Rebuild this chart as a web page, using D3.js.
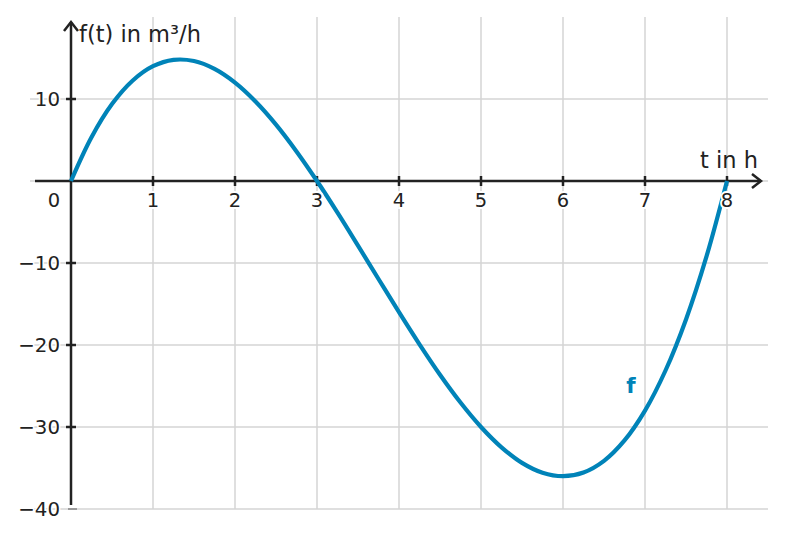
<!DOCTYPE html>
<html><head><meta charset="utf-8">
<script src="https://cdn.jsdelivr.net/npm/d3@7"></script>
<style>body{margin:0;background:#fff}text{font-family:"DejaVu Sans",sans-serif;fill:#222}</style>
</head><body><svg id="c" width="785" height="537"></svg>
<script>
const tVals = [0,0.25,0.5,0.75,1,1.25,1.5,1.75,2,2.25,2.5,2.75,3,3.25,3.5,3.75,4,4.25,4.5,4.75,5,5.25,5.5,5.75,6,6.25,6.5,6.75,7,7.25,7.5,7.75,8];
const fVals = [0,5.33,9.38,12.23,14,14.77,14.63,13.67,12,9.70,6.88,3.61,0,-3.86,-7.88,-11.95,-16,-19.92,-23.63,-27.02,-30,-32.48,-34.38,-35.58,-36,-35.55,-34.13,-31.64,-28,-23.11,-16.88,-9.20,0];
const xTicks = [1,2,3,4,5,6,7,8];
const yTicks = [10,-10,-20,-30,-40];
const xGrid = [1,2,3,4,5,6,7,8];
const yGrid = [10,0,-10,-20,-30,-40];

const svg = d3.select("#c");
const x = d3.scaleLinear().domain([0,8.5]).range([71,768]);
const y = d3.scaleLinear().domain([-40,20]).range([509,17]);
const dark = "#222";

// grid
svg.append("g").selectAll("line").data(xGrid).join("line")
  .attr("x1",d=>x(d)).attr("x2",d=>x(d)).attr("y1",y(20)).attr("y2",y(-40))
  .attr("stroke","#d4d4d4").attr("stroke-width",1.5);
svg.append("g").selectAll("line").data(yGrid).join("line")
  .attr("x1",30).attr("x2",768).attr("y1",d=>y(d)).attr("y2",d=>y(d))
  .attr("stroke","#d4d4d4").attr("stroke-width",1.5);

// axes
svg.append("line").attr("x1",35).attr("x2",761).attr("y1",y(0)).attr("y2",y(0)).attr("stroke",dark).attr("stroke-width",2.5);
svg.append("path").attr("d",`M${752},${y(0)-7} L${761},${y(0)} L${752},${y(0)+7}`).attr("fill","none").attr("stroke",dark).attr("stroke-width",2.5);
svg.append("line").attr("x1",x(0)).attr("x2",x(0)).attr("y1",505).attr("y2",22).attr("stroke",dark).attr("stroke-width",2.5);
svg.append("path").attr("d",`M${x(0)-7},${31} L${x(0)},${22} L${x(0)+7},${31}`).attr("fill","none").attr("stroke",dark).attr("stroke-width",2.5);

// ticks
svg.append("g").selectAll("line").data(xTicks).join("line")
  .attr("x1",d=>x(d)).attr("x2",d=>x(d)).attr("y1",y(0)-5).attr("y2",y(0)+5).attr("stroke",dark).attr("stroke-width",2.5);
svg.append("g").selectAll("line").data(yTicks.filter(d=>d!==-40)).join("line")
  .attr("x1",x(0)-5).attr("x2",x(0)+5).attr("y1",d=>y(d)).attr("y2",d=>y(d)).attr("stroke",dark).attr("stroke-width",2.5);
svg.append("line").attr("x1",x(0)-3).attr("x2",x(0)+6).attr("y1",y(-40)).attr("y2",y(-40)).attr("stroke","#555").attr("stroke-width",1);

// curve
svg.append("path").datum(tVals.map((t,i)=>[t,fVals[i]]))
  .attr("d",d3.line().x(d=>x(d[0])).y(d=>y(d[1])).curve(d3.curveCatmullRom))
  .attr("fill","none").attr("stroke","#0083b8").attr("stroke-width",4.2);

// labels
svg.append("g").selectAll("text").data(xTicks).join("text")
  .attr("x",d=>x(d)).attr("y",y(0)+26).attr("text-anchor","middle").attr("font-size",19.5)
  .attr("paint-order","stroke").attr("stroke","#fff").attr("stroke-width",4)
  .text(d=>d);
svg.append("text").attr("x",54).attr("y",y(0)+26).attr("text-anchor","middle").attr("font-size",19.5).text("0");
svg.append("g").selectAll("text").data(yTicks).join("text")
  .attr("x",60).attr("y",d=>y(d)+7).attr("text-anchor","end").attr("font-size",19.8)
  .attr("paint-order","stroke").attr("stroke","#fff").attr("stroke-width",3)
  .text(d=>d<0?"\u2212"+Math.abs(d):d);
svg.append("text").attr("x",79).attr("y",42).attr("font-size",22.5).text("f(t) in m³/h");
svg.append("text").attr("x",758).attr("y",168).attr("text-anchor","end").attr("font-size",22.5).text("t in h");
svg.append("text").attr("x",631).attr("y",393).attr("text-anchor","middle").attr("font-size",21.5).attr("font-weight","bold").style("fill","#0083b8").text("f");
</script></body></html>
